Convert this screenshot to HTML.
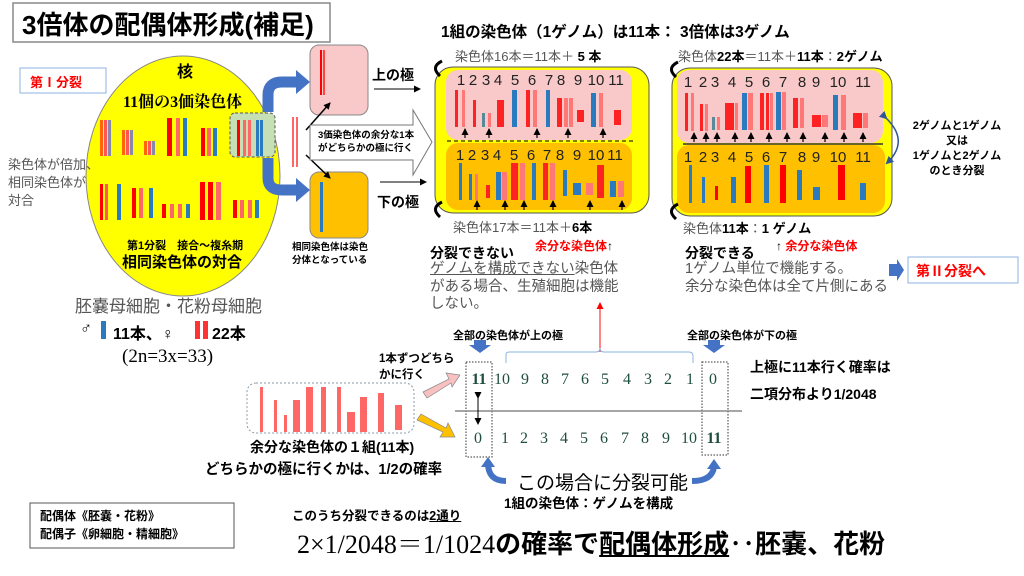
<!DOCTYPE html>
<html><head><meta charset="utf-8"><style>
body{margin:0;width:1024px;height:576px;position:relative;background:#fff;overflow:hidden;font-family:"Liberation Sans","Noto Sans CJK JP",sans-serif;}
.a{position:absolute;white-space:nowrap;}
.b{font-weight:bold;}
.g{color:#555;}
.s{font-family:"Liberation Serif","Noto Serif CJK SC",serif;}
.d{position:absolute;font-size:15px;color:#222;transform:translateX(-50%);}
.n{position:absolute;font-size:16px;color:#1f4e3d;font-family:"Liberation Serif",serif;transform:translateX(-50%);}
</style></head><body>
<svg width="1024" height="576" style="position:absolute;left:0;top:0">
<defs>
<marker id="ar" markerUnits="userSpaceOnUse" markerWidth="7" markerHeight="7" refX="6" refY="3.5" orient="auto"><path d="M0,0L7,3.5L0,7z" fill="#000"/></marker>
<marker id="rr" markerUnits="userSpaceOnUse" markerWidth="7" markerHeight="7" refX="6" refY="3.5" orient="auto"><path d="M0,0L7,3.5L0,7z" fill="#f00"/></marker>
<marker id="br" markerUnits="userSpaceOnUse" markerWidth="8" markerHeight="8" refX="6" refY="4" orient="auto"><path d="M0,0L8,4L0,8z" fill="#2f5597"/></marker>
</defs>
<rect x="13" y="3" width="317" height="39" fill="#fff" stroke="#888" stroke-width="1.5"/>
<rect x="20" y="68" width="86" height="25" fill="#fff" stroke="#8fb3e0"/>
<ellipse cx="183" cy="176" rx="97" ry="120" fill="#ffff00" stroke="#888"/>
<g>
<rect x="100" y="120" width="3" height="36" fill="#f60"/><rect x="104" y="120" width="3" height="36" fill="#f55"/><rect x="108" y="120" width="3" height="36" fill="#88a"/>
<rect x="122" y="130" width="3" height="25" fill="#f60"/><rect x="126" y="130" width="3" height="25" fill="#f55"/><rect x="130" y="130" width="3" height="25" fill="#88a"/>
<rect x="144" y="141" width="3" height="14" fill="#f60"/><rect x="148" y="141" width="3" height="14" fill="#f55"/><rect x="152" y="141" width="3" height="14" fill="#88a"/>
<rect x="167" y="118" width="5" height="38" fill="#f00"/><rect x="176" y="118" width="4" height="38" fill="#f66"/><rect x="183" y="118" width="4" height="38" fill="#2a7ac0"/>
<rect x="201" y="128" width="4" height="28" fill="#f00"/><rect x="207" y="128" width="4" height="28" fill="#f66"/><rect x="213" y="128" width="4" height="28" fill="#2a7ac0"/>
</g>
<rect x="230" y="113" width="45" height="44" rx="5" fill="#c6dfb4" stroke="#555" stroke-dasharray="3,2"/>
<rect x="237" y="120" width="3" height="36" fill="#f00"/><rect x="243" y="120" width="3" height="36" fill="#f66"/><rect x="248" y="120" width="3" height="36" fill="#f66"/><rect x="256" y="120" width="3" height="36" fill="#2a7ac0"/><rect x="260" y="120" width="3" height="36" fill="#2a7ac0"/>
<g>
<rect x="100" y="184" width="3" height="36" fill="#f00"/><rect x="105" y="184" width="3" height="36" fill="#f55"/><rect x="117" y="184" width="4" height="36" fill="#2a7ac0"/>
<rect x="132" y="188" width="4" height="30" fill="#f00"/><rect x="139" y="188" width="4" height="30" fill="#f66"/><rect x="149" y="188" width="4" height="30" fill="#2a7ac0"/>
<rect x="162" y="204" width="4" height="14" fill="#f00"/><rect x="170" y="204" width="4" height="14" fill="#f66"/><rect x="178" y="204" width="4" height="14" fill="#f66"/><rect x="186" y="204" width="4" height="14" fill="#2a7ac0"/>
<rect x="200" y="182" width="5" height="38" fill="#f00"/><rect x="208" y="182" width="5" height="38" fill="#f00"/><rect x="216" y="182" width="5" height="38" fill="#f66"/>
<rect x="233" y="200" width="4" height="18" fill="#f00"/><rect x="240" y="200" width="4" height="18" fill="#f66"/><rect x="248" y="200" width="4" height="18" fill="#f66"/><rect x="255" y="200" width="4" height="18" fill="#2a7ac0"/>
</g>
<path d="M268,112 L268,95 Q268,82 282,82 L298,82" fill="none" stroke="#4472c4" stroke-width="11"/>
<path d="M296,70 L310,82 L296,94z" fill="#4472c4"/>
<path d="M268,158 L268,178 Q268,190 282,190 L298,190" fill="none" stroke="#4472c4" stroke-width="11"/>
<path d="M296,178 L310,190 L296,202z" fill="#4472c4"/>
<rect x="310" y="45" width="58" height="70" rx="9" fill="#f9c9c9" stroke="#888"/>
<rect x="320" y="50" width="2" height="45" fill="#f00"/><rect x="323" y="50" width="2" height="45" fill="#f44"/>
<rect x="310" y="172" width="58" height="66" rx="9" fill="#ffc000" stroke="#888"/>
<rect x="320" y="182" width="3" height="50" fill="#2a7ac0"/>
<rect x="292" y="117" width="2" height="50" fill="#f66"/><rect x="296" y="117" width="2" height="50" fill="#f66"/>
<line x1="306" y1="130" x2="330" y2="103" stroke="#000" stroke-width="1.5" marker-end="url(#ar)"/>
<line x1="306" y1="155" x2="330" y2="178" stroke="#000" stroke-width="1.5" marker-end="url(#ar)"/>
<path d="M310,125 L413,125 L413,110 L432,142 L413,175 L413,160 L310,160z" fill="#fff" stroke="#777"/>
<line x1="374" y1="89" x2="420" y2="89" stroke="#000" stroke-width="1" marker-end="url(#ar)"/>
<line x1="380" y1="182" x2="426" y2="182" stroke="#000" stroke-width="1" marker-end="url(#ar)"/>
<rect x="435" y="67" width="214" height="146" rx="18" fill="#ffff00" stroke="#555"/>
<rect x="446" y="70" width="186" height="70" rx="12" fill="#f9c9c9"/>
<rect x="446" y="143" width="186" height="67" rx="12" fill="#ffc000"/>
<line x1="447" y1="141" x2="634" y2="141" stroke="#000" stroke-dasharray="4,3"/>
<rect x="672" y="68" width="220" height="148" rx="18" fill="#ffff00" stroke="#555"/>
<rect x="677" y="70" width="206" height="73" rx="12" fill="#f9c9c9"/>
<rect x="677" y="145" width="208" height="68" rx="12" fill="#ffc000"/>
<line x1="683" y1="144" x2="883" y2="144" stroke="#333" stroke-width="1.5"/>
<g fill="#f22">
<rect x="455" y="90" width="3" height="37"/><rect x="462" y="90" width="3" height="37" fill="#f77"/>
<rect x="473" y="100" width="3" height="27"/>
<rect x="482" y="113" width="3" height="14" fill="#5a8a9a"/><rect x="488" y="113" width="3" height="14" fill="#f77"/>
<rect x="497" y="100" width="7" height="27"/>
<rect x="512" y="90" width="5" height="37" fill="#2a7ac0"/>
<rect x="526" y="90" width="4" height="37"/><rect x="533" y="90" width="4" height="37" fill="#f77"/>
<rect x="546" y="90" width="4" height="37" fill="#2a7ac0"/>
<rect x="557" y="98" width="5" height="29"/><rect x="564" y="98" width="4" height="29" fill="#f77"/><rect x="569" y="98" width="4" height="29" fill="#f77"/>
<rect x="577" y="110" width="7" height="12"/>
<rect x="591" y="93" width="5" height="34" fill="#2a7ac0"/><rect x="599" y="93" width="4" height="34" fill="#f77"/>
<rect x="614" y="110" width="7" height="15"/>
</g>
<g fill="#f22">
<rect x="459" y="163" width="3" height="37" fill="#2a7ac0"/>
<rect x="469" y="174" width="3" height="26" fill="#2a7ac0"/><rect x="475" y="174" width="3" height="26" fill="#f77"/>
<rect x="486" y="185" width="4" height="13"/>
<rect x="496" y="172" width="5" height="28" fill="#2a7ac0"/><rect x="502" y="172" width="5" height="28" fill="#f77"/>
<rect x="511" y="163" width="7" height="37"/><rect x="520" y="163" width="5" height="37" fill="#f77"/>
<rect x="532" y="163" width="4" height="37" fill="#2a7ac0"/>
<rect x="543" y="163" width="5" height="37"/><rect x="550" y="163" width="5" height="37" fill="#f77"/>
<rect x="563" y="170" width="4" height="26" fill="#2a7ac0"/>
<rect x="573" y="183" width="8" height="12" fill="#2a7ac0"/><rect x="586" y="183" width="7" height="12" fill="#f77"/>
<rect x="597" y="165" width="7" height="33"/>
<rect x="610" y="181" width="6" height="16" fill="#2a7ac0"/><rect x="618" y="181" width="6" height="16" fill="#f77"/>
</g>
<g fill="#f22">
<rect x="685" y="93" width="3" height="38"/><rect x="691" y="93" width="3" height="38" fill="#f77"/>
<rect x="700" y="104" width="3" height="27"/><rect x="705" y="104" width="3" height="27" fill="#f77"/>
<rect x="712" y="117" width="3" height="13" fill="#5a8a9a"/><rect x="717" y="117" width="3" height="13" fill="#f77"/>
<rect x="725" y="103" width="9" height="27"/><rect x="735" y="103" width="3" height="27" fill="#f77"/>
<rect x="742" y="93" width="5" height="37" fill="#2a7ac0"/><rect x="748" y="93" width="5" height="37" fill="#f77"/>
<rect x="760" y="93" width="4" height="37"/><rect x="766" y="93" width="3" height="37"/><rect x="770" y="93" width="3" height="37" fill="#f77"/>
<rect x="776" y="92" width="5" height="38" fill="#2a7ac0"/><rect x="782" y="92" width="4" height="38" fill="#f77"/>
<rect x="793" y="98" width="5" height="30"/><rect x="800" y="98" width="4" height="30" fill="#f77"/>
<rect x="812" y="115" width="9" height="12"/><rect x="822" y="115" width="6" height="12" fill="#f77"/>
<rect x="833" y="95" width="5" height="35" fill="#2a7ac0"/><rect x="841" y="95" width="5" height="35" fill="#f77"/>
<rect x="853" y="113" width="9" height="15"/><rect x="863" y="113" width="5" height="15" fill="#f77"/>
</g>
<g fill="#f00">
<rect x="689" y="165" width="3" height="38" fill="#2a7ac0"/><rect x="702" y="177" width="3" height="26" fill="#2a7ac0"/>
<rect x="715" y="186" width="3" height="14"/><rect x="731" y="177" width="5" height="26" fill="#2a7ac0"/>
<rect x="745" y="166" width="6" height="37"/><rect x="764" y="165" width="5" height="38" fill="#2a7ac0"/>
<rect x="780" y="165" width="6" height="38"/><rect x="797" y="170" width="5" height="30" fill="#2a7ac0"/>
<rect x="813" y="187" width="7" height="13" fill="#2a7ac0"/><rect x="838" y="165" width="7" height="35"/>
<rect x="860" y="183" width="6" height="17" fill="#2a7ac0"/>
</g>
<g stroke="#000" stroke-width="1.2" marker-end="url(#ar)">
<line x1="465" y1="138" x2="465" y2="129"/><line x1="489" y1="138" x2="489" y2="129"/><line x1="537" y1="138" x2="537" y2="129"/><line x1="568" y1="138" x2="568" y2="129"/><line x1="603" y1="138" x2="603" y2="129"/>
<line x1="477" y1="210" x2="477" y2="201"/><line x1="505" y1="210" x2="505" y2="201"/><line x1="524" y1="210" x2="524" y2="201"/><line x1="553" y1="210" x2="553" y2="201"/><line x1="590" y1="210" x2="590" y2="201"/><line x1="622" y1="210" x2="622" y2="201"/>
<line x1="694" y1="142" x2="694" y2="133"/><line x1="706" y1="142" x2="706" y2="133"/><line x1="717" y1="142" x2="717" y2="133"/><line x1="735" y1="142" x2="735" y2="133"/><line x1="751" y1="142" x2="751" y2="133"/><line x1="769" y1="142" x2="769" y2="133"/><line x1="787" y1="142" x2="787" y2="133"/><line x1="803" y1="142" x2="803" y2="133"/><line x1="825" y1="142" x2="825" y2="133"/><line x1="844" y1="142" x2="844" y2="133"/><line x1="863" y1="142" x2="863" y2="133"/>
</g>
<g fill="none" stroke="#000" stroke-width="3">
<path d="M442,61 Q430,67 440,76"/><path d="M442,202 Q430,208 440,217"/>
<path d="M678,62 Q666,68 676,77"/><path d="M678,204 Q666,210 676,219"/>
</g>
<path d="M886,118 Q910,141 887,163" fill="none" stroke="#2f5597" stroke-width="1.5" marker-end="url(#br)" marker-start="url(#br)"/>
<path d="M889,264 L897,264 L897,259 L904,270 L897,281 L897,276 L889,276z" fill="#4472c4"/>
<rect x="908" y="257" width="110" height="26" fill="#fff" stroke="#8fb3e0"/>
<line x1="600" y1="352" x2="600" y2="303" stroke="#f33" stroke-width="1.2" marker-end="url(#rr)"/>
<path d="M506,363 L506,354 Q506,352 510,352 L596,352 Q600,352 600,348 Q600,352 604,352 L689,352 Q693,352 693,356 L693,363" fill="none" stroke="#8fb3e0"/>
<path d="M474,340 L486,340 L486,345 L491,345 L480,353 L469,345 L474,345z" fill="#4472c4"/>
<path d="M708,340 L720,340 L720,345 L725,345 L714,353 L703,345 L708,345z" fill="#4472c4"/>
<rect x="466" y="362" width="26" height="95" fill="none" stroke="#333" stroke-dasharray="1.5,1.5"/>
<rect x="702" y="362" width="26" height="93" fill="none" stroke="#333" stroke-dasharray="1.5,1.5"/>
<line x1="455" y1="411" x2="742" y2="411" stroke="#888" stroke-width="1.5"/>
<line x1="478" y1="398" x2="478" y2="424" stroke="#000" stroke-width="1" marker-end="url(#ar)" marker-start="url(#ar)"/>
<rect x="247" y="383" width="167" height="50" rx="9" fill="none" stroke="#8899aa" stroke-dasharray="2,2"/>
<g fill="#f66">
<rect x="260" y="387" width="3" height="45"/><rect x="274" y="400" width="3" height="32"/><rect x="284" y="415" width="3" height="17"/><rect x="293" y="400" width="7" height="32"/><rect x="306" y="387" width="7" height="45"/><rect x="321" y="387" width="5" height="45"/><rect x="337" y="387" width="4" height="45"/><rect x="347" y="412" width="8" height="20"/><rect x="360" y="397" width="7" height="35"/><rect x="378" y="393" width="6" height="39"/><rect x="395" y="405" width="7" height="25"/>
</g>
<path d="M423,392 L449,379 L446,373 L460,375 L452,387 L451,383 L427,398z" fill="#f8c0c0" stroke="#888" stroke-width=".7"/>
<path d="M421,414 L446,428 L448,423 L455,437 L440,437 L443,432 L417,420z" fill="#ffc000" stroke="#888" stroke-width=".7"/>
<path d="M488,463 Q488,481 506,481" fill="none" stroke="#4472c4" stroke-width="6"/><path d="M481,467 L488,457 L495,467z" fill="#4472c4"/>
<path d="M692,481 Q712,481 714,467" fill="none" stroke="#4472c4" stroke-width="6"/><path d="M707,469 L714,459 L721,469z" fill="#4472c4"/>
<rect x="30" y="503" width="204" height="45" fill="#fff" stroke="#555"/>
<rect x="101" y="321" width="5" height="18" fill="#2a7ac0"/><rect x="195" y="321" width="5" height="18" fill="#f33"/><rect x="203" y="321" width="5" height="18" fill="#f33"/>
</svg>

<div class="a b" style="left:22px;top:5px;font-size:26px;">3倍体の配偶体形成(補足)</div>
<div class="a b" style="left:30px;top:72px;font-size:13px;color:#f00;">第Ⅰ分裂</div>
<div class="a b" style="left:177px;top:58px;font-size:16px;">核</div>
<div class="a b s" style="left:123px;top:89px;font-size:16px;">11個の3価染色体</div>
<div class="a g" style="left:8px;top:156px;font-size:13px;line-height:18px;">染色体が倍加、<br>相同染色体が<br>対合</div>
<div class="a b" style="left:127px;top:237px;font-size:11px;">第1分裂　接合～複糸期</div>
<div class="a b" style="left:122px;top:251px;font-size:15px;">相同染色体の対合</div>
<div class="a b" style="left:318px;top:129px;font-size:9.5px;line-height:13px;">3価染色体の余分な1本<br>がどちらかの極に行く</div>
<div class="a b" style="left:372px;top:65px;font-size:14px;">上の極</div>
<div class="a b" style="left:377px;top:192px;font-size:14px;">下の極</div>
<div class="a b" style="left:292px;top:241px;font-size:9.5px;line-height:13px;">相同染色体は染色<br>分体となっている</div>
<div class="a g" style="left:75px;top:292px;font-size:17px;">胚嚢母細胞・花粉母細胞</div>
<div class="a b" style="left:80px;top:320px;font-size:16px;">♂</div>
<div class="a b" style="left:113px;top:320px;font-size:16px;">11本、♀</div>
<div class="a b" style="left:212px;top:320px;font-size:16px;">22本</div>
<div class="a s" style="left:122px;top:346px;font-size:19px;">(2n=3x=33)</div>

<div class="a b" style="left:441px;top:20px;font-size:15.5px;">1組の染色体（1ゲノム）は11本：&nbsp;3倍体は3ゲノム</div>
<div class="a g" style="left:455px;top:46px;font-size:13px;">染色体16本＝11本＋ <b style="color:#000">5 本</b></div>
<div class="a g" style="left:678px;top:46px;font-size:13px;">染色体<b style="color:#000">22本</b>＝11本＋<b style="color:#000">11本</b>：<b style="color:#000">2ゲノム</b></div>

<div class="d" style="left:461px;top:72px">1</div><div class="d" style="left:473px;top:72px">2</div><div class="d" style="left:486px;top:72px">3</div><div class="d" style="left:498px;top:72px">4</div><div class="d" style="left:515px;top:72px">5</div><div class="d" style="left:532px;top:72px">6</div><div class="d" style="left:549px;top:72px">7</div><div class="d" style="left:561px;top:72px">8</div><div class="d" style="left:578px;top:72px">9</div><div class="d" style="left:596px;top:72px">10</div><div class="d" style="left:616px;top:72px">11</div>
<div class="d" style="left:460px;top:147px">1</div><div class="d" style="left:472px;top:147px">2</div><div class="d" style="left:485px;top:147px">3</div><div class="d" style="left:497px;top:147px">4</div><div class="d" style="left:514px;top:147px">5</div><div class="d" style="left:531px;top:147px">6</div><div class="d" style="left:547px;top:147px">7</div><div class="d" style="left:560px;top:147px">8</div><div class="d" style="left:577px;top:147px">9</div><div class="d" style="left:596px;top:147px">10</div><div class="d" style="left:615px;top:147px">11</div>
<div class="d" style="left:688px;top:74px">1</div><div class="d" style="left:703px;top:74px">2</div><div class="d" style="left:715px;top:74px">3</div><div class="d" style="left:732px;top:74px">4</div><div class="d" style="left:749px;top:74px">5</div><div class="d" style="left:766px;top:74px">6</div><div class="d" style="left:783px;top:74px">7</div><div class="d" style="left:802px;top:74px">8</div><div class="d" style="left:816px;top:74px">9</div><div class="d" style="left:838px;top:74px">10</div><div class="d" style="left:863px;top:74px">11</div>
<div class="d" style="left:688px;top:149px">1</div><div class="d" style="left:703px;top:149px">2</div><div class="d" style="left:715px;top:149px">3</div><div class="d" style="left:732px;top:149px">4</div><div class="d" style="left:749px;top:149px">5</div><div class="d" style="left:766px;top:149px">6</div><div class="d" style="left:783px;top:149px">7</div><div class="d" style="left:802px;top:149px">8</div><div class="d" style="left:816px;top:149px">9</div><div class="d" style="left:838px;top:149px">10</div><div class="d" style="left:863px;top:149px">11</div>

<div class="a b" style="left:905px;top:119px;width:104px;font-size:11px;line-height:15px;text-align:center;">2ゲノムと1ゲノム<br>又は<br>1ゲノムと2ゲノム<br>のとき分裂</div>
<div class="a g" style="left:453px;top:217px;font-size:13px;">染色体17本＝11本＋<b style="color:#000">6本</b></div>
<div class="a b" style="left:535px;top:237px;font-size:12px;color:#f00;">余分な染色体<span style="color:#000">↑</span></div>
<div class="a b" style="left:430px;top:243px;font-size:14px;">分裂できない</div>
<div class="a g" style="left:430px;top:261px;font-size:14.5px;line-height:17.5px;"><u>ゲノムを構成できない</u>染色体<br>がある場合、生殖細胞は機能<br>しない。</div>
<div class="a g" style="left:683px;top:218px;font-size:13px;">染色体<b style="color:#000">11本</b>：<b style="color:#000">1 ゲノム</b></div>
<div class="a b" style="left:776px;top:237px;font-size:12px;color:#f00;"><span style="color:#000">↑</span> 余分な染色体</div>
<div class="a b" style="left:685px;top:243px;font-size:14px;">分裂できる</div>
<div class="a g" style="left:685px;top:261px;font-size:14.5px;line-height:17.5px;">1ゲノム単位で機能する。<br>余分な染色体は全て片側にある</div>
<div class="a b" style="left:916px;top:261px;font-size:14px;color:#f00;">第Ⅱ分裂へ</div>

<div class="a b" style="left:453px;top:327px;font-size:11px;">全部の染色体が上の極</div>
<div class="a b" style="left:687px;top:327px;font-size:11px;">全部の染色体が下の極</div>
<div class="a b" style="left:379px;top:351px;font-size:11.5px;line-height:16px;">1本ずつどちら<br>かに行く</div>
<div class="n b" style="left:479px;top:371px">11</div><div class="n" style="left:502px;top:371px">10</div><div class="n" style="left:525px;top:371px">9</div><div class="n" style="left:545px;top:371px">8</div><div class="n" style="left:565px;top:371px">7</div><div class="n" style="left:585px;top:371px">6</div><div class="n" style="left:605px;top:371px">5</div><div class="n" style="left:627px;top:371px">4</div><div class="n" style="left:648px;top:371px">3</div><div class="n" style="left:668px;top:371px">2</div><div class="n" style="left:690px;top:371px">1</div><div class="n" style="left:713px;top:371px">0</div>
<div class="n" style="left:478px;top:430px">0</div><div class="n" style="left:505px;top:430px">1</div><div class="n" style="left:524px;top:430px">2</div><div class="n" style="left:544px;top:430px">3</div><div class="n" style="left:564px;top:430px">4</div><div class="n" style="left:584px;top:430px">5</div><div class="n" style="left:604px;top:430px">6</div><div class="n" style="left:625px;top:430px">7</div><div class="n" style="left:645px;top:430px">8</div><div class="n" style="left:666px;top:430px">9</div><div class="n" style="left:689px;top:430px">10</div><div class="n b" style="left:714px;top:430px">11</div>
<div class="a b" style="left:750px;top:357px;font-size:14px;">上極に11本行く確率は</div>
<div class="a b" style="left:750px;top:384px;font-size:14px;">二項分布より1/2048</div>
<div class="a b" style="left:250px;top:437px;font-size:14px;">余分な染色体の１組(11本)</div>
<div class="a b" style="left:205px;top:458px;font-size:14.5px;">どちらかの極に行くかは、1/2の確率</div>
<div class="a" style="left:517px;top:468px;font-size:19px;">この場合に分裂可能</div>
<div class="a b" style="left:504px;top:492px;font-size:13.5px;">1組の染色体：ゲノムを構成</div>
<div class="a b" style="left:40px;top:507px;font-size:12px;line-height:18px;">配偶体《胚嚢・花粉》<br>配偶子《卵細胞・精細胞》</div>
<div class="a b" style="left:292px;top:505px;font-size:12.5px;">このうち分裂できるのは<u>2通り</u></div>
<div class="a s" style="left:297px;top:524px;font-size:26px;">2×1/2048＝1/1024<b style="font-family:'Liberation Sans','Noto Sans CJK JP',sans-serif;">の確率で<u>配偶体形成</u>‥胚嚢、花粉</b></div>
</body></html>
